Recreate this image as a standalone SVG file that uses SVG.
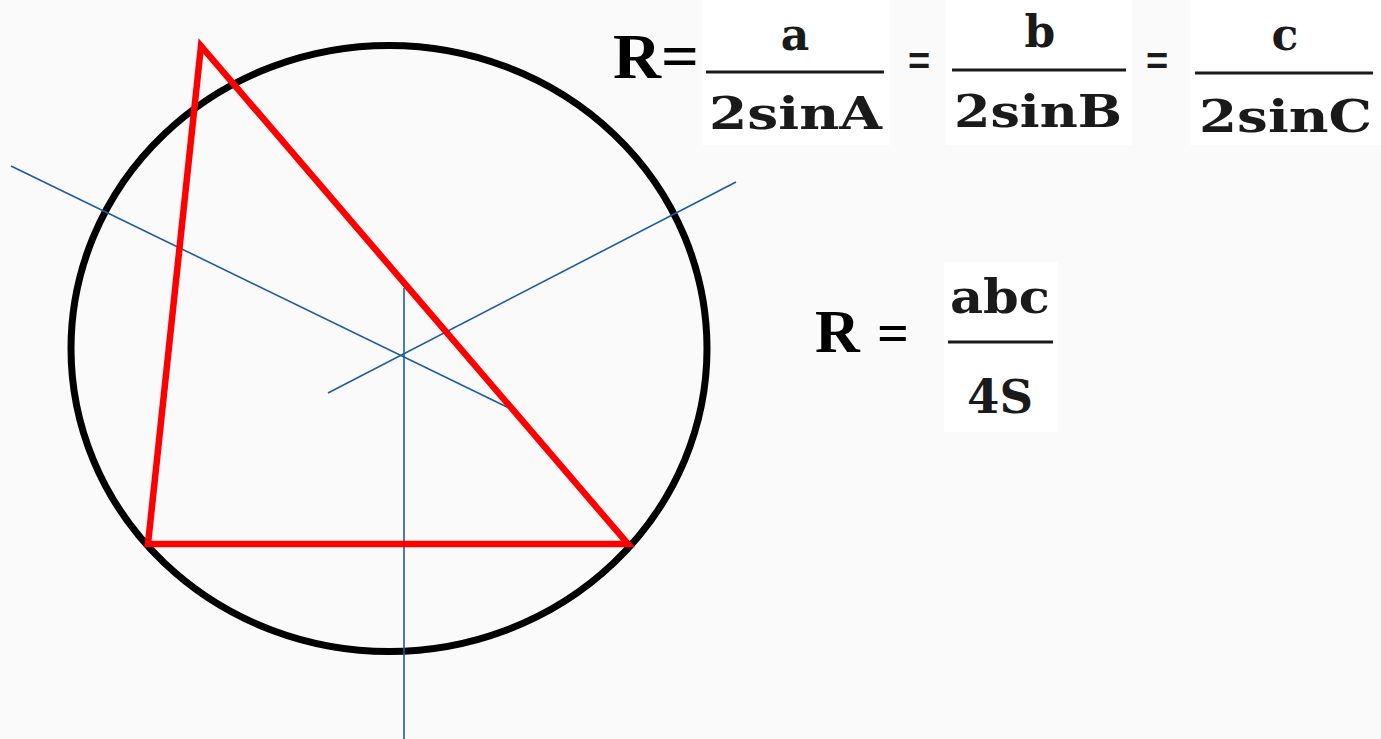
<svg xmlns="http://www.w3.org/2000/svg" width="1381" height="739" viewBox="0 0 1381 739">
<style>
.bg{fill:#fafafa}
.box{fill:#ffffff}
.blue{stroke:#1d5c9e;stroke-width:1.6;fill:none}
.red{stroke:#ff0000;stroke-width:6.5;fill:none;stroke-linejoin:miter}
.circ{stroke:#000;stroke-width:7;fill:none}
.bar{stroke:#1a1a1a;stroke-width:3}
.tr{font-family:"Liberation Serif",serif;font-weight:bold;fill:#000}
.cm{font-family:"DejaVu Serif","Liberation Serif",serif;font-weight:bold;fill:#1a1a1a}
.eq{font-family:"Liberation Sans",sans-serif;font-weight:bold;fill:#1a1a1a}
</style>
<rect class="bg" x="0" y="0" width="1381" height="739"/>
<g id="formula-boxes">
<rect class="box" x="702" y="0" width="188" height="145"/>
<rect class="box" x="946" y="0" width="186" height="145"/>
<rect class="box" x="1190" y="0" width="191" height="145"/>
<rect class="box" x="944" y="262" width="114" height="170"/>
</g>
<g id="circle"><ellipse class="circ" cx="389" cy="348.5" rx="318" ry="303"/></g>
<g id="bisectors">
<line class="blue" x1="11" y1="166" x2="509" y2="408"/>
<line class="blue" x1="328" y1="393" x2="736" y2="182"/>
<line class="blue" x1="404" y1="288" x2="404" y2="739"/>
</g>
<g id="triangle"><polygon class="red" points="201,46 148,544 628,544"/></g>
<g id="formula1">
<text class="tr" x="613" y="78" font-size="64" textLength="86" lengthAdjust="spacingAndGlyphs">R=</text>
<text class="cm" x="795" y="50" font-size="44" text-anchor="middle">a</text>
<line class="bar" x1="706" y1="72" x2="884" y2="72"/>
<text class="cm" x="709" y="129" font-size="45" textLength="173" lengthAdjust="spacingAndGlyphs">2sinA</text>
<text class="eq" x="919" y="74" font-size="38" text-anchor="middle">=</text>
<text class="cm" x="1040" y="47" font-size="44" text-anchor="middle">b</text>
<line class="bar" x1="952" y1="70" x2="1126" y2="70"/>
<text class="cm" x="954" y="127" font-size="45" textLength="168" lengthAdjust="spacingAndGlyphs">2sinB</text>
<text class="eq" x="1157" y="74" font-size="38" text-anchor="middle">=</text>
<text class="cm" x="1285" y="50" font-size="44" text-anchor="middle">c</text>
<line class="bar" x1="1195" y1="73" x2="1373" y2="73"/>
<text class="cm" x="1199" y="132" font-size="45" textLength="173" lengthAdjust="spacingAndGlyphs">2sinC</text>
</g>
<g id="formula2">
<text class="tr" x="815" y="352" font-size="62">R</text>
<text class="tr" x="893" y="352" font-size="56" text-anchor="middle">=</text>
<text class="cm" x="950" y="313" font-size="46" textLength="100" lengthAdjust="spacingAndGlyphs">abc</text>
<line class="bar" x1="948" y1="342" x2="1053" y2="342"/>
<text class="cm" x="967" y="413" font-size="46" textLength="66" lengthAdjust="spacingAndGlyphs">4S</text>
</g>
</svg>
